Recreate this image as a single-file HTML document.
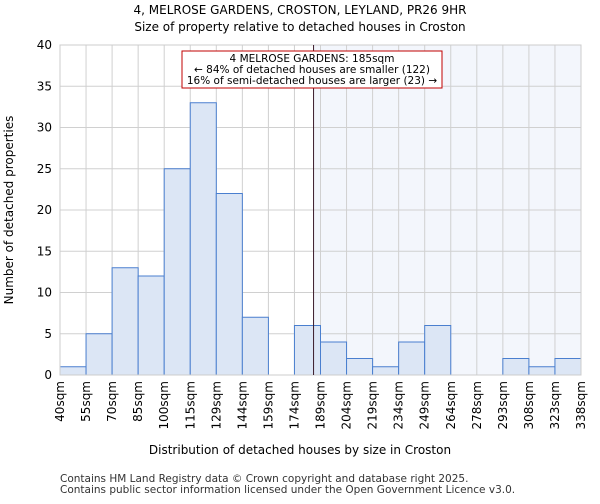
<!DOCTYPE html>
<html><head><meta charset="utf-8"><style>
body{margin:0;background:#fff;font-family:"DejaVu Sans","Liberation Sans",sans-serif}
</style></head><body>
<svg id="c" width="600" height="500" xmlns="http://www.w3.org/2000/svg" font-family="DejaVu Sans, Liberation Sans, sans-serif">
<text x="300" y="14" text-anchor="middle" font-size="12">4, MELROSE GARDENS, CROSTON, LEYLAND, PR26 9HR</text>
<text x="300" y="31" text-anchor="middle" font-size="12">Size of property relative to detached houses in Croston</text>
<g id="plot"></g>
<text x="300" y="454" text-anchor="middle" font-size="12">Distribution of detached houses by size in Croston</text>
<text transform="translate(13,210) rotate(-90)" text-anchor="middle" font-size="12">Number of detached properties</text>
<text x="60" y="482" font-size="10.5" fill="#333">Contains HM Land Registry data © Crown copyright and database right 2025.</text>
<text x="60" y="493" font-size="10.5" fill="#333">Contains public sector information licensed under the Open Government Licence v3.0.</text>
</svg>
<script>
const binLabels=["40sqm","55sqm","70sqm","85sqm","100sqm","115sqm","129sqm","144sqm","159sqm","174sqm","189sqm","204sqm","219sqm","234sqm","249sqm","264sqm","278sqm","293sqm","308sqm","323sqm","338sqm"];
const binEdges=[40,55,70,85,100,115,129,144,159,174,189,204,219,234,249,264,278,293,308,323,338];
const counts=[1,5,13,12,25,33,22,7,0,6,4,2,1,4,6,0,0,2,1,2];
const yTicks=[0,5,10,15,20,25,30,35,40];
const markerValue=185;
const ns="http://www.w3.org/2000/svg";
const L=60,R=581,T=45,B=375,yMax=40;
const nb=counts.length,bw=(R-L)/nb;
const g=document.getElementById('plot');
function y(v){return B-(v/yMax)*(B-T);}
function xi(i){return L+i*bw;}
function xv(v){for(let i=0;i<nb;i++){if(v>=binEdges[i]&&v<=binEdges[i+1])return xi(i)+bw*(v-binEdges[i])/(binEdges[i+1]-binEdges[i]);}return R;}
function mk(t,a){const e=document.createElementNS(ns,t);for(const k in a)e.setAttribute(k,a[k]);g.appendChild(e);return e;}
const mx=xv(markerValue);
let e=mk('rect',{x:mx,y:T,width:R-mx,height:B-T,fill:'#f3f6fc'});


yTicks.forEach(t=>{const l=mk('line',{x1:L,x2:R,y1:y(t),y2:y(t),stroke:'#d0d0d0'});


const tx=mk('text',{x:L-8,y:y(t)+4,'text-anchor':'end','font-size':'12'});tx.textContent=t;

});
for(let i=0;i<=nb;i++){const l=mk('line',{x1:xi(i),x2:xi(i),y1:T,y2:B,stroke:'#d0d0d0'});

}
counts.forEach((c,i)=>{if(c<=0)return;const r=mk('rect',{x:xi(i),y:y(c),width:bw,height:B-y(c),fill:'#dce6f5',stroke:'#4a7fcf','stroke-width':1});

});
binLabels.forEach((lb,i)=>{const tx=mk('text',{transform:`translate(${xi(i)+4},${B+6}) rotate(-90)`,'text-anchor':'end','font-size':'12'});tx.textContent=lb;

});
let a=mk('rect',{x:L,y:T,width:R-L,height:B-T,fill:'none',stroke:'#ccc'});


let ml=mk('line',{x1:mx,x2:mx,y1:T,y2:B,stroke:'#3a1a2a','stroke-width':1});


let bx=mk('rect',{x:182,y:51,width:260,height:37,fill:'#fff',stroke:'#c00000','stroke-width':1});


["4 MELROSE GARDENS: 185sqm","← 84% of detached houses are smaller (122)","16% of semi-detached houses are larger (23) →"].forEach((s,i)=>{const tx=mk('text',{x:312,y:62+i*11,'text-anchor':'middle','font-size':'10.5'});tx.textContent=s;

});
</script>
</body></html>
